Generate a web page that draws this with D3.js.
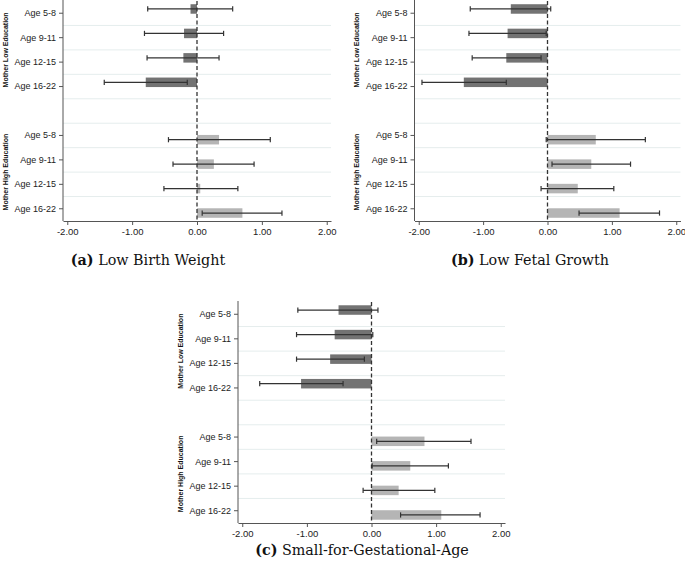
<!DOCTYPE html>
<html>
<head>
<meta charset="utf-8">
<script src="https://cdn.jsdelivr.net/npm/d3@7"></script>
<style>
  html, body { margin: 0; padding: 0; background: #ffffff; }
  svg { display: block; }
</style>
</head>
<body>
<script>
// ---------------- data ----------------
const ageGroups = ["Age 5-8", "Age 9-11", "Age 12-15", "Age 16-22"];
const educationGroups = ["Mother Low Education", "Mother High Education"];
const xTickValues = [-2, -1, 0, 1, 2];
const panelLetters = ["(a)", "(b)", "(c)"];
const panelTitles = ["Low Birth Weight", "Low Fetal Growth", "Small-for-Gestational-Age"];

// (a) Low Birth Weight
const lbwLowEst  = [-0.10, -0.20, -0.21, -0.79];
const lbwLowCiLo = [-0.76, -0.81, -0.77, -1.43];
const lbwLowCiHi = [ 0.55,  0.41,  0.34, -0.15];
const lbwHighEst  = [ 0.34,  0.26,  0.05,  0.70];
const lbwHighCiLo = [-0.44, -0.37, -0.51,  0.08];
const lbwHighCiHi = [ 1.13,  0.88,  0.63,  1.31];

// (b) Low Fetal Growth
const lfgLowEst  = [-0.57, -0.62, -0.64, -1.30];
const lfgLowCiLo = [-1.20, -1.22, -1.17, -1.95];
const lfgLowCiHi = [ 0.05, -0.02, -0.10, -0.64];
const lfgHighEst  = [ 0.75,  0.68,  0.47,  1.12];
const lfgHighCiLo = [-0.02,  0.07, -0.10,  0.49];
const lfgHighCiHi = [ 1.52,  1.29,  1.03,  1.74];

// (c) Small-for-Gestational-Age
const sgaLowEst  = [-0.51, -0.57, -0.64, -1.09];
const sgaLowCiLo = [-1.14, -1.16, -1.16, -1.73];
const sgaLowCiHi = [ 0.10,  0.02, -0.11, -0.44];
const sgaHighEst  = [ 0.82,  0.60,  0.42,  1.08];
const sgaHighCiLo = [ 0.08,  0.01, -0.13,  0.45];
const sgaHighCiHi = [ 1.54,  1.19,  0.98,  1.68];

// ---------------- layout ----------------
const W = 685, H = 572;
const panels = [
  { left: 63,    top: 1,   width: 268, height: 220, capX: 148, capY: 265, grpX: 5,
    low: [lbwLowEst, lbwLowCiLo, lbwLowCiHi], high: [lbwHighEst, lbwHighCiLo, lbwHighCiHi] },
  { left: 414.5, top: 1,   width: 266, height: 220, capX: 530, capY: 265, grpX: 356,
    low: [lfgLowEst, lfgLowCiLo, lfgLowCiHi], high: [lfgHighEst, lfgHighCiLo, lfgHighCiHi] },
  { left: 238,   top: 302, width: 267, height: 221, capX: 362, capY: 555, grpX: 180,
    low: [sgaLowEst, sgaLowCiLo, sgaLowCiHi], high: [sgaHighEst, sgaHighCiLo, sgaHighCiHi] }
];

const colLow = "#737373", colHigh = "#b5b5b5", colErr = "#333333";
const gridCol = "#e5eded", axisCol = "#555555";
const sansFont = "'Liberation Sans', Arial, Helvetica, sans-serif";
const serifFont = "'DejaVu Serif', 'Liberation Serif', serif";

const slots = ["L0", "L1", "L2", "L3", "gap", "H0", "H1", "H2", "H3"];
const labelledSlots = slots.filter(s => s !== "gap");
const slotLabel = s => ageGroups[+s[1]];

const svg = d3.select("body").append("svg").attr("width", W).attr("height", H);
const captions = [];

panels.forEach((p, pi) => {
  const x = d3.scaleLinear().domain([-2.066, 2.066]).range([p.left, p.left + p.width]);
  const y = d3.scaleBand().domain(slots).range([p.top, p.top + p.height]).padding(0);
  const bw = y.bandwidth();
  const g = svg.append("g");

  // gridlines between slots
  g.selectAll("line.grid").data(slots.slice(1)).join("line")
    .attr("x1", p.left).attr("x2", p.left + p.width)
    .attr("y1", d => y(d)).attr("y2", d => y(d))
    .attr("stroke", gridCol).attr("stroke-width", 1);

  const rows = [];
  ageGroups.forEach((a, i) => {
    rows.push({ slot: "L" + i, est: p.low[0][i], lo: p.low[1][i], hi: p.low[2][i], grp: 0 });
    rows.push({ slot: "H" + i, est: p.high[0][i], lo: p.high[1][i], hi: p.high[2][i], grp: 1 });
  });
  const barH = 9.5;
  const barY = d => y(d.slot) + bw / 2 + (d.grp === 0 ? -9 : -0.5);

  g.selectAll("rect.bar").data(rows).join("rect")
    .attr("x", d => x(Math.min(0, d.est)))
    .attr("width", d => Math.abs(x(d.est) - x(0)))
    .attr("y", barY).attr("height", barH)
    .attr("fill", d => d.grp === 0 ? colLow : colHigh);

  // zero line (dashed)
  g.append("line")
    .attr("x1", x(0)).attr("x2", x(0))
    .attr("y1", p.top).attr("y2", p.top + p.height)
    .attr("stroke", "#333").attr("stroke-width", 1.3)
    .attr("stroke-dasharray", "4,2.5");

  // error bars
  const eb = g.selectAll("g.err").data(rows).join("g")
    .attr("stroke", colErr).attr("stroke-width", 1.2);
  const ec = d => barY(d) + barH / 2;
  eb.append("line").attr("x1", d => x(d.lo)).attr("x2", d => x(d.hi))
    .attr("y1", ec).attr("y2", ec);
  eb.append("line").attr("x1", d => x(d.lo)).attr("x2", d => x(d.lo))
    .attr("y1", d => ec(d) - 2.6).attr("y2", d => ec(d) + 2.6);
  eb.append("line").attr("x1", d => x(d.hi)).attr("x2", d => x(d.hi))
    .attr("y1", d => ec(d) - 2.6).attr("y2", d => ec(d) + 2.6);

  // x axis
  const xa = g.append("g").attr("transform", `translate(0,${p.top + p.height})`)
    .call(d3.axisBottom(x).tickValues(xTickValues).tickFormat(d => d.toFixed(2))
      .tickSize(4).tickSizeOuter(0).tickPadding(3));
  xa.selectAll("path, line").attr("stroke", axisCol);
  xa.selectAll("text").attr("font-family", sansFont).attr("font-size", 9.5).attr("fill", "#222");

  // y axis
  const ya = g.append("g").attr("transform", `translate(${p.left},0)`)
    .call(d3.axisLeft(y).tickValues(labelledSlots).tickFormat(slotLabel)
      .tickSize(4).tickSizeOuter(0).tickPadding(3));
  ya.select("path.domain").attr("d", `M0,${p.top - 1}V${p.top + p.height}`);
  ya.selectAll("path, line").attr("stroke", axisCol);
  ya.selectAll("text").attr("font-family", sansFont).attr("font-size", 9).attr("fill", "#222");

  // group labels (rotated)
  educationGroups.forEach((eg, gi) => {
    const s0 = gi === 0 ? "L0" : "H0", s3 = gi === 0 ? "L3" : "H3";
    const cy = (y(s0) + y(s3) + bw) / 2;
    g.append("text")
      .attr("transform", `translate(${p.grpX + 2.5},${cy}) rotate(-90)`)
      .attr("text-anchor", "middle")
      .attr("font-family", sansFont).attr("font-size", 7).attr("font-weight", "bold")
      .attr("fill", "#111")
      .text(eg);
  });

  // caption
  const cap = svg.append("text")
    .attr("x", p.capX).attr("y", p.capY)
    .attr("text-anchor", "middle")
    .attr("font-family", serifFont).attr("font-size", 14).attr("fill", "#111");
  cap.append("tspan").attr("font-weight", "bold").text(panelLetters[pi]);
  cap.append("tspan").text(" " + panelTitles[pi]);
  captions.push(cap);
});

// size captions so that the widest matches the reference width
const refLen = captions[2].node().getComputedTextLength();
const capSize = 14 * 214 / refLen;
captions.forEach(c => c.attr("font-size", capSize));
</script>
</body>
</html>
